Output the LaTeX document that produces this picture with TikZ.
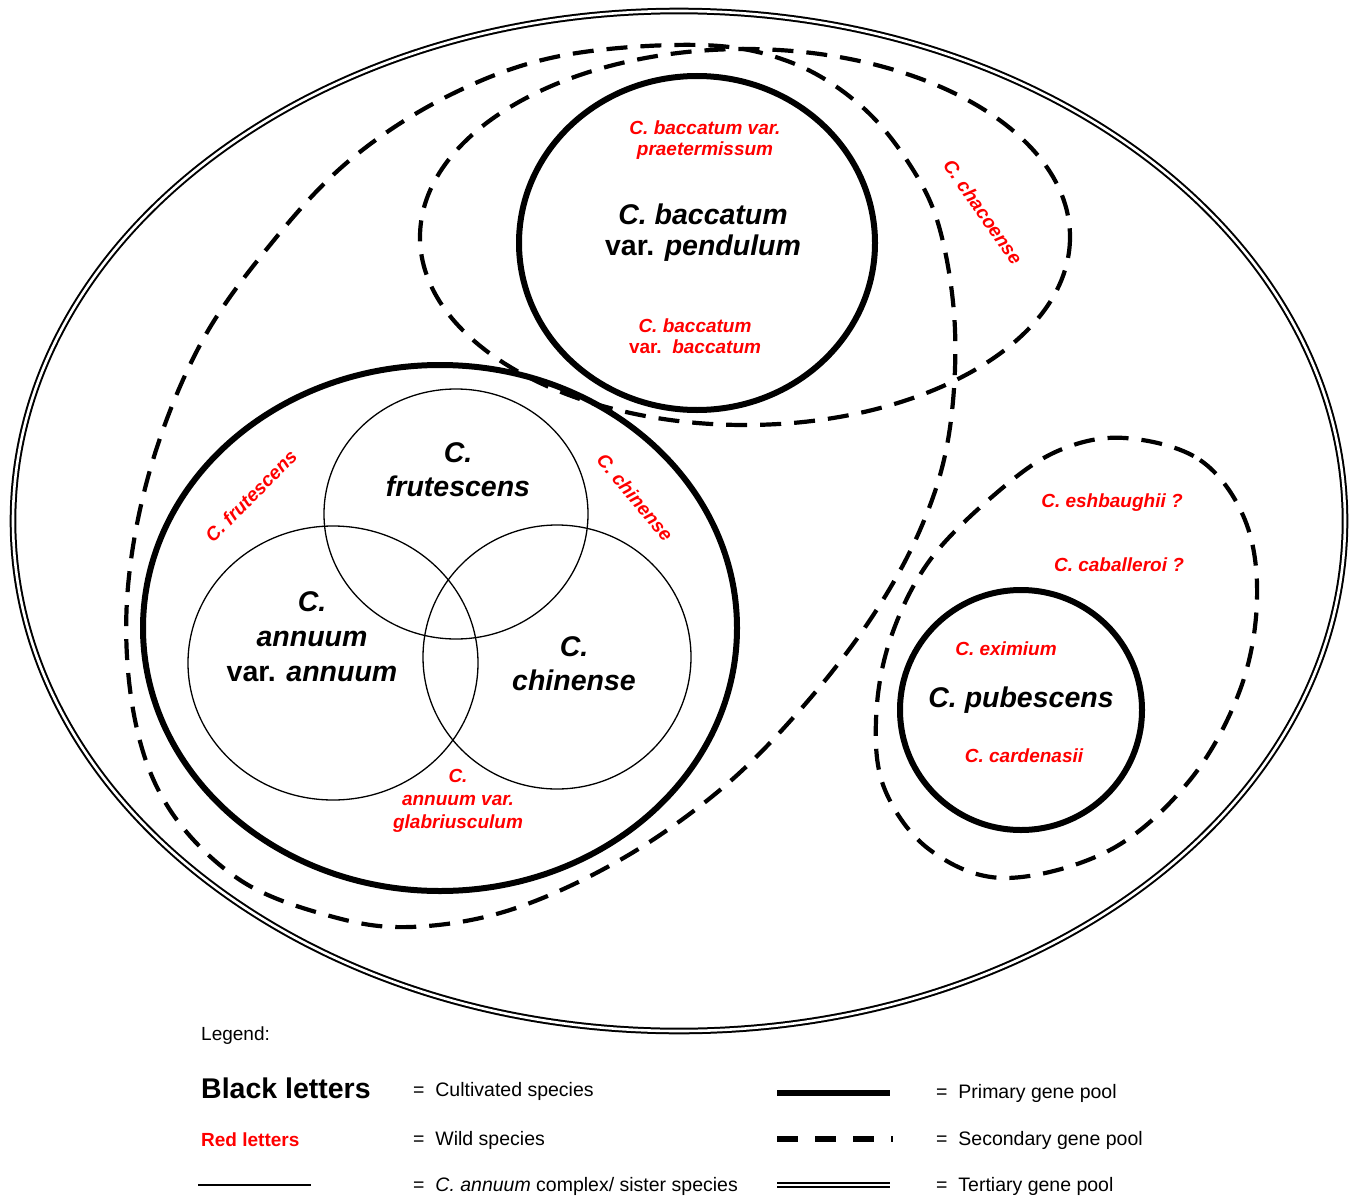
\documentclass[tikz,border=0pt]{standalone}
\usepackage{fontspec}
\setmainfont{Liberation Sans}
\definecolor{wildred}{RGB}{255,0,0}
\begin{document}
\begin{tikzpicture}[x=1pt,y=-1pt,
  tert/.style={double, line width=2pt, double distance=2.6pt},
  sec/.style={line width=4.2pt, dash pattern=on 21pt off 13pt},
  prim/.style={line width=6pt},
  sis/.style={line width=1.3pt},
  blk/.style={font=\fontsize{28.5}{34}\selectfont\bfseries\itshape, align=center, inner sep=0pt},
  wild/.style={text=wildred, font=\fontsize{19}{21.5}\selectfont\bfseries\itshape, align=center, inner sep=0pt},
  leg/.style={font=\fontsize{19.5}{21}\selectfont, anchor=west, inner sep=0pt}]
\useasboundingbox (0,0) rectangle (1349,1196);
% tertiary gene pool
\draw[tert] (679,521) ellipse [x radius=666, y radius=510];
% secondary gene pools
\draw[sec] plot[smooth cycle, tension=0.6] coordinates {
 (700,45) (560,56) (450,95) (350,160) (270,245) (200,345) (150,470) (127,600)
 (135,720) (170,810) (240,880) (330,916) (410,927) (510,910) (620,860) (720,790)
 (800,710) (870,620) (920,530) (948,440) (955,330) (940,230) (910,165) (860,105) (790,62)};
\draw[sec] (745,237) ellipse [x radius=325, y radius=188];
\draw[sec] plot[smooth cycle, tension=0.6] coordinates {
 (1125,438) (1200,460) (1245,520) (1257,600) (1240,690) (1190,780) (1110,850)
 (1005,878) (930,850) (885,790) (876,720) (890,640) (930,560) (1000,490) (1060,450)};
% primary gene pools
\draw[prim] (697,243) ellipse [x radius=178, y radius=167];
\draw[prim] (440,628) ellipse [x radius=297, y radius=263];
\draw[prim] (1021,710) ellipse [x radius=121, y radius=120];
% C. annuum complex
\draw[sis] (456,514) ellipse [x radius=132, y radius=125];
\draw[sis] (333,663) ellipse [x radius=145, y radius=137];
\draw[sis] (557,657) ellipse [x radius=134, y radius=132];
% cultivated
\node[blk, font=\fontsize{28.5}{31}\selectfont\bfseries\itshape] (bacc) at (703,233) {C. baccatum\\{\upshape var.} pendulum};
\node[blk] (frut) at (458,470) {C.\\frutescens};
\node[blk, font=\fontsize{28.5}{35}\selectfont\bfseries\itshape] (annu) at (312,637) {C.\\annuum\\{\upshape var.} annuum};
\node[blk] (chin) at (574,664) {C.\\chinense};
\node[blk] (pube) at (1021,700) {C. pubescens};
% wild
\node[wild] (prae) at (705,140) {C. baccatum var.\\praetermissum};
\node[wild] (bbac) at (695,336) {C. baccatum\\{\upshape var.}\ \ baccatum};
\node[wild, rotate=-55] (chac) at (983,212) {C. chacoense};
\node[wild, rotate=45] (wfru) at (251,496) {C. frutescens};
\node[wild, rotate=-50] (wchi) at (635,497) {C. chinense};
\node[wild, font=\fontsize{19}{23}\selectfont\bfseries\itshape] (glab) at (458,801) {C.\\annuum var.\\glabriusculum};
\node[wild] (eshb) at (1112,503) {C. eshbaughii ?};
\node[wild] (caba) at (1119,565) {C. caballeroi ?};
\node[wild] (exim) at (1006,649) {C. eximium};
\node[wild] (card) at (1024,756) {C. cardenasii};
% legend
\node[leg, font=\fontsize{19}{21}\selectfont] (lg) at (201,1036) {Legend:};
\node[leg, font=\fontsize{28.5}{30}\selectfont\bfseries] (lbl) at (201,1088) {Black letters};
\node[leg, font=\fontsize{19}{21}\selectfont\bfseries, text=wildred] (lrd) at (201,1140) {Red letters};
\coordinate (s1) at (198,1185); \coordinate (s2) at (311,1185);
\draw[sis] (s1) -- (s2);
\node[leg] (e1) at (413,1091) {=\ \ Cultivated species};
\node[leg] (e2) at (413,1140) {=\ \ Wild species};
\node[leg] (e3) at (413,1186) {=\ \ \textit{C. annuum} complex/ sister species};
\coordinate (p1) at (777,1093); \coordinate (p2) at (890,1093);
\draw[line width=6pt] (p1) -- (p2);
\coordinate (q1) at (777,1139); \coordinate (q2) at (893,1139);
\draw[line width=6pt, dash pattern=on 21pt off 17pt] (q1) -- (q2);
\coordinate (r1) at (777,1185); \coordinate (r2) at (890,1185);
\draw[tert] (r1) -- (r2);
\node[leg] (g1) at (936,1093) {=\ \ Primary gene pool};
\node[leg] (g2) at (936,1140) {=\ \ Secondary gene pool};
\node[leg] (g3) at (936,1186) {=\ \ Tertiary gene pool};
\end{tikzpicture}
\end{document}
